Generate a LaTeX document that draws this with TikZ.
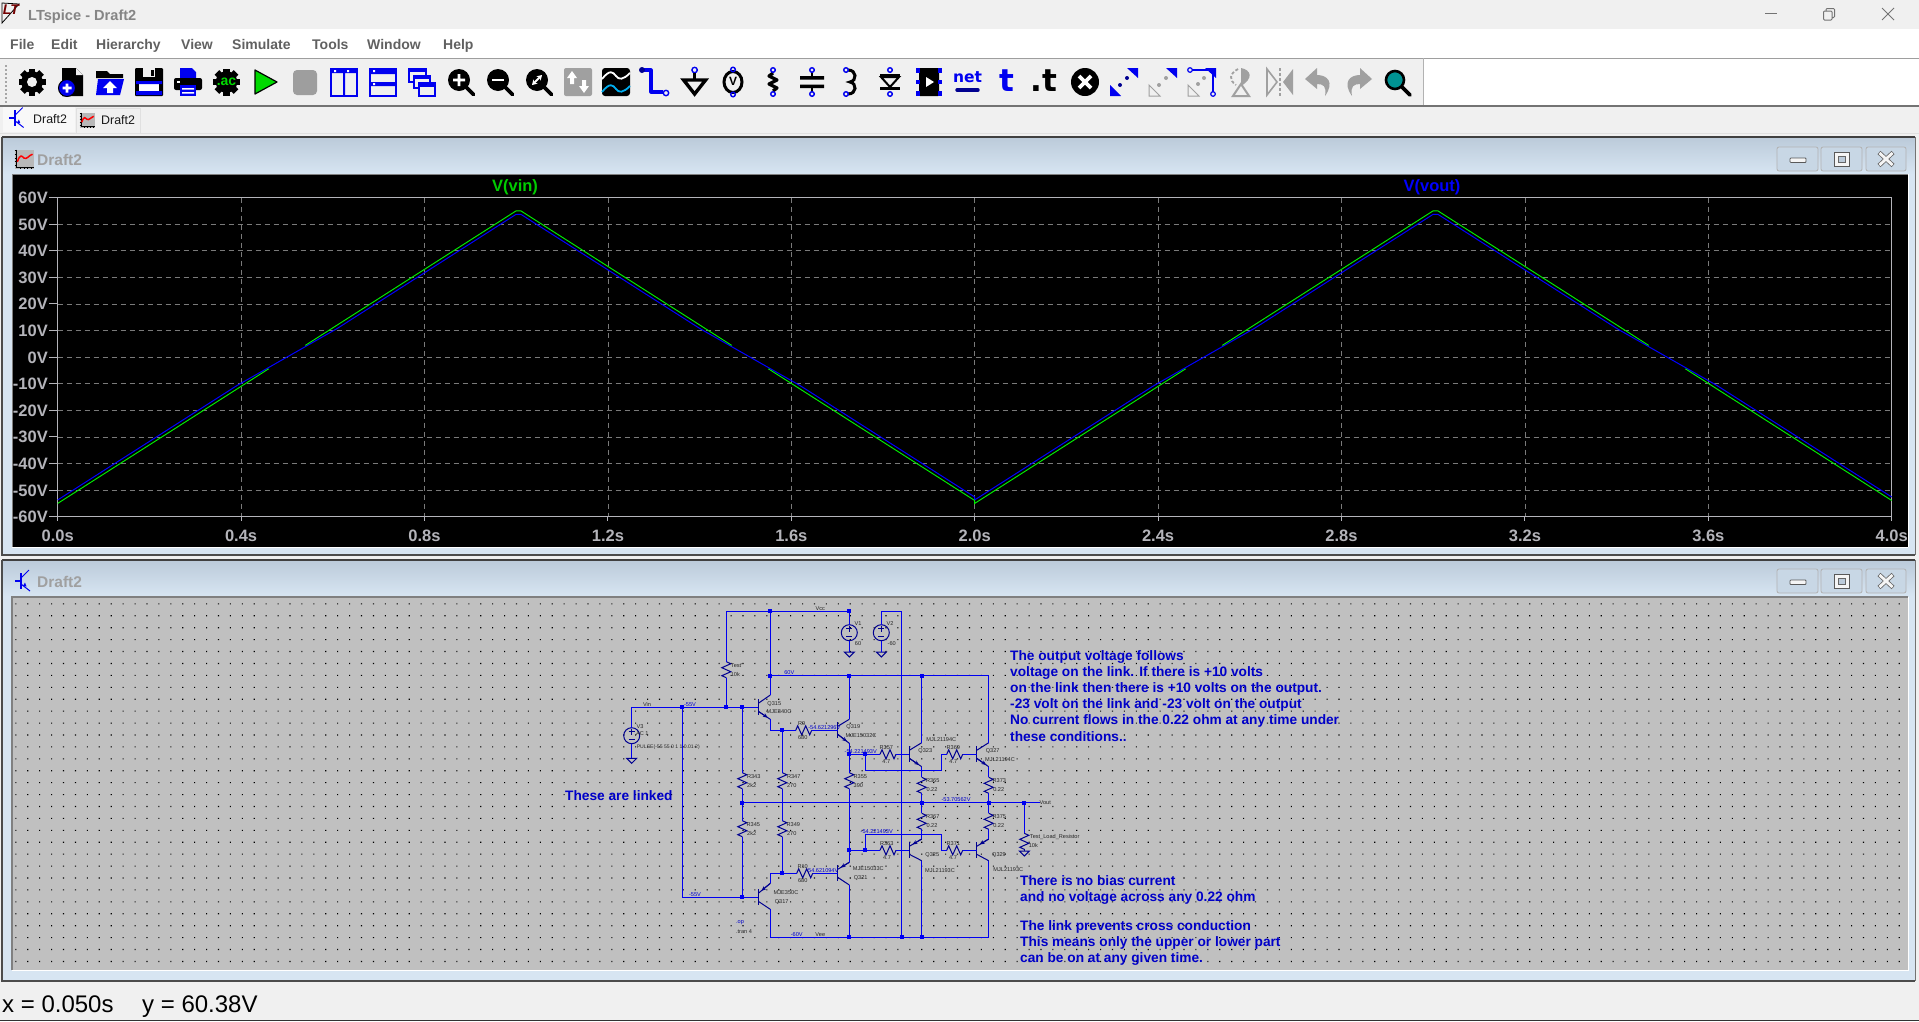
\documentclass[tikz,border=0pt]{standalone}
\usepackage{fontspec}
\setmainfont{Liberation Sans}
\newfontfamily\icofont{DejaVu Sans}
\usetikzlibrary{arrows.meta,calc}
\definecolor{ui}{HTML}{F0F0F0}
\definecolor{wire}{HTML}{0000F0}
\definecolor{symc}{HTML}{000090}
\definecolor{sch}{HTML}{C0C0C0}
\definecolor{frameA}{HTML}{BCCBDA}
\definecolor{frameB}{HTML}{D7E5F2}
\definecolor{axis}{HTML}{B4B4BA}
\definecolor{note}{HTML}{0000C8}
\definecolor{dis}{HTML}{A0A0A0}
\definecolor{tbblue}{HTML}{0000F0}
\definecolor{trg}{HTML}{00F000}
\tikzset{
  w/.style={draw=wire,line width=1.15pt},
  sym/.style={draw=symc,line width=1pt,line join=miter},
  tn/.style={font=\fontsize{5.6}{6}\selectfont,text=black!85,inner sep=0pt,text height=4.2pt,text depth=0pt},
  vn/.style={font=\fontsize{5.6}{6}\selectfont,text=wire!85!black,inner sep=0pt,text height=4.2pt,text depth=0pt},
  bign/.style={font=\fontsize{13.7}{16}\selectfont\bfseries,text=note,inner sep=0pt,anchor=base west},
  menun/.style={font=\fontsize{14}{14}\selectfont\bfseries,text=black!62,inner sep=0pt,anchor=base west},
  axn/.style={font=\fontsize{16.5}{16.5}\selectfont\bfseries,text=axis,inner sep=0pt,text height=12pt,text depth=0pt},
  grid/.style={draw=black!52,line width=.75pt,dash pattern=on 5pt off 4pt},
  btn/.style={draw=black!30,fill=frameA!55!frameB,rounded corners=2pt,line width=.8pt},
  statn/.style={inner sep=0pt,anchor=base west,font=\fontsize{24}{24}\selectfont,text=black},
}
\newcommand\myvr[3]{\coordinate (#1-t) at (#2,#3); \coordinate (#1-b) at (#2,#3+16);
  \draw[sym] (#1-t) -- ++(4.5,2) -- ++(-9,4) -- ++(9,4) -- ++(-9,4) -- (#1-b);}
\newcommand\myhr[3]{\coordinate (#1-t) at (#2,#3); \coordinate (#1-b) at (#2+16,#3);
  \draw[sym] (#1-t) -- ++(2,-4.5) -- ++(4,9) -- ++(4,-9) -- ++(4,9) -- (#1-b);}
\newcommand\myq[6]{% name barx basey wirex topy boty
  \coordinate (#1-g) at (#2,#3); \coordinate (#1-u) at (#4,#5); \coordinate (#1-d) at (#4,#6);
  \coordinate (#1-us) at (#2,#3-4); \coordinate (#1-ds) at (#2,#3+4);
  \draw[sym,line width=1.3pt] (#2,#3-8) -- (#2,#3+8);
  \draw[sym] (#1-us) -- (#1-u); \draw[sym] (#1-ds) -- (#1-d);}
\newcommand\mynpn[6]{\myq{#1}{#2}{#3}{#4}{#5}{#6}
  \draw[sym,-{Stealth[length=5pt,width=4pt]}] (#1-ds) -- ($(#1-ds)!.8!(#1-d)$);}
\newcommand\mypnp[6]{\myq{#1}{#2}{#3}{#4}{#5}{#6}
  \draw[sym,-{Stealth[length=5pt,width=4pt]}] (#1-u) -- ($(#1-u)!.75!(#1-us)$);}
\newcommand\mysrc[3]{\coordinate (#1-t) at (#2,#3-8); \coordinate (#1-b) at (#2,#3+8);
  \draw[sym] (#2,#3) circle (8);
  \draw[sym] (#2-3,#3-4) -- (#2+3,#3-4) (#2,#3-7) -- (#2,#3-1) (#2-3,#3+4) -- (#2+3,#3+4);}
\newcommand\mygnd[3]{\coordinate (#1) at (#2,#3);
  \draw[sym] (#2-5,#3) -- (#2+5,#3) -- (#2,#3+5) -- cycle;}
\newcommand\myj[1]{\fill[wire] ($(#1)+(-2,-2)$) rectangle ($(#1)+(2,2)$);}
\newcommand\mygear[3]{\begin{scope}[shift={(#1,#2)}]
  \foreach \a in {0,45,...,315}{\fill[black,rotate=\a] (-3.2,-13.5) rectangle (3.2,0);}
  \fill[black] (0,0) circle (10.8);
  \ifx#3w\fill[ui] (0,0) circle (5);\fi
  \end{scope}}
\newcommand\myzoom[3]{\begin{scope}[shift={(#1,#2)}]
  \draw[black,line width=3.6pt,line cap=round] (5,5) -- (12.5,12.5);
  \fill[black] (-2,-2) circle (11);
  #3
  \end{scope}}
\newcommand\myploticon[3]{\begin{scope}[shift={(#1,#2)},scale=#3]
  \fill[black!28] (-10,-10) rectangle (10,10);
  \draw[black,line width=1pt] (-8,-10) -- (-8,9) -- (10,9);
  \foreach \v in {-9,-5,-1,3,7}{\draw[black,line width=.8pt] (-10,\v) -- (-8,\v);}
  \foreach \v in {-4,0,4,8}{\draw[black,line width=.8pt] (\v,9) -- (\v,11);}
  \draw[red,line width=1.5pt] (-7,3) .. controls (-4,-6) and (-2,-3) .. (0,-1) .. controls (3,1) and (5,-4) .. (9,-5);
  \end{scope}}
\newcommand\mytrans[3]{\begin{scope}[shift={(#1,#2)},scale=#3]
  \draw[tbblue,line width=1.3pt] (-8,0) -- (-2,0);
  \draw[tbblue,line width=2.4pt] (-2,-8) -- (-2,8);
  \draw[tbblue,line width=1pt] (-2,-3) -- (6,-11);
  \draw[tbblue,line width=1pt] (-2,3) -- (7,10);
  \fill[tbblue] (3.5,5.5) -- (0,5) -- (2,1.5) -- cycle;
  \end{scope}}
\newcommand\mybtns[1]{%
  \draw[btn] (1777,#1) rectangle (1818,#1+24);
  \draw[btn] (1821,#1) rectangle (1862,#1+24);
  \draw[btn] (1866,#1) rectangle (1906,#1+24);
  \draw[black!65,fill=black!4,line width=.8pt,rounded corners=.8pt] (1790,#1+11) rectangle (1806,#1+15.5);
  \draw[black!65,fill=black!4,line width=.8pt] (1834,#1+5) rectangle (1849,#1+19);
  \draw[black!60,fill=frameA,line width=.8pt] (1838,#1+9) rectangle (1845,#1+15);
  \draw[black!60,line width=4.4pt] (1879,#1+5.5) -- (1893,#1+18.5) (1893,#1+5.5) -- (1879,#1+18.5);
  \draw[black!4,line width=2.8pt] (1879.5,#1+6) -- (1892.5,#1+18) (1892.5,#1+6) -- (1879.5,#1+18);}
\begin{document}
\begin{tikzpicture}[x=1pt,y=-1pt,
  declare function={tx(\t)=57.7+458.5*\t; vy(\v)=357.1-2.66*\v;}]
\useasboundingbox (0,0) rectangle (1919,1021);
% ---------- application chrome
\fill[ui] (0,0) rectangle (1919,1021);
\fill[white] (0,28.5) rectangle (1919,58);
\fill[white] (1423,58) rectangle (1919,105);
\draw[black!38,line width=1pt] (0,58) -- (1919,58);
\draw[black!30,line width=.8pt] (1423,58) -- (1423,105);
\draw[black!55,line width=1.2pt] (0,106) -- (1919,106);
% title bar
\draw[black,line width=.8pt] (2,3) -- (2,23) -- (19,4) -- cycle;
\node[inner sep=0pt,text=red!45!black,font=\fontsize{14}{14}\selectfont\bfseries\itshape] (logo) at (11,10) {LT};
\node[menun,text=black!48,font=\fontsize{14.6}{14.6}\selectfont\bfseries] (title) at (28,20) {LTspice - Draft2};
\draw[black!55,line width=1pt] (1765,13.5) -- (1777,13.5);
\draw[black!55,line width=1pt,rounded corners=1pt] (1823.5,11) rectangle (1832,20);
\draw[black!55,line width=1pt,rounded corners=1pt] (1826,11) -- (1826,8.5) -- (1834.5,8.5) -- (1834.5,17.5) -- (1832,17.5);
\draw[black!55,line width=1pt] (1882,8) -- (1894,20) (1894,8) -- (1882,20);
% menu
\node[menun] (mfile) at (10,49) {File};
\node[menun] (medit) at (51,49) {Edit};
\node[menun] (mhier) at (96,49) {Hierarchy};
\node[menun] (mview) at (181,49) {View};
\node[menun] (msim) at (232,49) {Simulate};
\node[menun] (mtools) at (312,49) {Tools};
\node[menun] (mwin) at (367,49) {Window};
\node[menun] (mhelp) at (443,49) {Help};
% toolbar grip
\foreach \v in {65,69,...,101}{\fill[black!35] (5,\v) rectangle (6.5,\v+1.5);}
% toolbar icons
\mygear{32}{82}{w}
\begin{scope}[shift={(71,82)}]
 \fill[black] (-9,-14) -- (5,-14) -- (12,-7) -- (12,14) -- (-9,14) -- cycle;
 \fill[ui] (5,-14) -- (12,-7) -- (5,-7) -- cycle;
 \draw[black,line width=1pt,fill=tbblue] (-4,6) circle (8.5);
 \fill[white] (-8.5,4.7) rectangle (.5,7.3) (-5.3,1.5) rectangle (-2.7,10.5);
\end{scope}
\begin{scope}[shift={(110,82)}]
 \fill[black] (-14,-11) -- (-3,-11) -- (0,-8) -- (13,-8) -- (13,-4) -- (-14,-4) -- cycle;
 \fill[tbblue] (-12,-3) -- (14,-3) -- (10,13) -- (-14,13) -- cycle;
 \fill[white] (0,-1) -- (7,6) -- (3,6) -- (3,11) -- (-3,11) -- (-3,6) -- (-7,6) -- cycle;
\end{scope}
\begin{scope}[shift={(149,82)}]
 \fill[black,rounded corners=1pt] (-14,-14) rectangle (14,14);
 \fill[ui] (-6,-14) rectangle (6,-5);
 \fill[black] (2,-12) rectangle (5,-6);
 \fill[white] (-10,2) rectangle (10,12);
 \fill[tbblue] (-13,-1) rectangle (13,2) (-13,9) rectangle (13,13);
\end{scope}
\begin{scope}[shift={(188,82)}]
 \fill[tbblue] (-8,-14) -- (4,-14) -- (8,-10) -- (8,-3) -- (-8,-3) -- cycle;
 \fill[black,rounded corners=2pt] (-14,-4) rectangle (14,8);
 \fill[white] (-11,-1) rectangle (-8,1);
 \fill[tbblue] (-8,3) rectangle (8,14);
 \fill[white] (-6,6) rectangle (6,7.5) (-6,10) rectangle (6,11.5);
\end{scope}
\mygear{226.5}{82}{n}
\node[inner sep=0pt,text=green!85!black,font=\fontsize{14}{14}\selectfont\bfseries] (ticoac) at (226.5,82) {.ac};
\draw[black,line width=1.2pt,fill=green!85!black,line join=round] (255,70) -- (255,94) -- (277,82) -- cycle;
\fill[black!38,rounded corners=4pt] (293,70) rectangle (317,95);
\begin{scope}[shift={(344,82)}]
 \draw[tbblue,line width=2pt] (-13,-13) rectangle (13,14);
 \fill[tbblue] (-13,-13) rectangle (13,-9) (-1,-13) rectangle (1,14);
 \fill[white] (-10,-12) rectangle (-8,-10) (3,-12) rectangle (5,-10);
\end{scope}
\begin{scope}[shift={(383,82)}]
 \draw[tbblue,line width=2pt] (-13,-13) rectangle (13,14);
 \fill[tbblue] (-13,-13) rectangle (13,-8) (-13,0) rectangle (13,4);
 \fill[white] (-10,-12) rectangle (-8,-10) (-10,1) rectangle (-8,3);
\end{scope}
\begin{scope}[shift={(422,82)}]
 \draw[tbblue,line width=2pt,fill=ui] (-13,-13) rectangle (4,0);
 \fill[tbblue] (-13,-13) rectangle (4,-10);
 \draw[tbblue,line width=2pt,fill=ui] (-8,-6) rectangle (8,6);
 \fill[tbblue] (-8,-6) rectangle (8,-3);
 \draw[tbblue,line width=2pt,fill=ui] (-3,1) rectangle (13,14);
 \fill[tbblue] (-3,1) rectangle (13,5);
\end{scope}
\myzoom{461}{82}{\fill[white] (-8,-3.3) rectangle (4,-.7) (-3.3,-8) rectangle (-.7,4);}
\myzoom{500}{82}{\fill[white] (-8,-3.3) rectangle (4,-.7);}
\myzoom{539}{82}{\draw[white,line width=2pt,{Stealth[length=5pt,width=6pt]}-{Stealth[length=5pt,width=6pt]}] (-7,3) -- (3,-7);}
\begin{scope}[shift={(578,82)}]
 \fill[dis,rounded corners=2pt] (-14,-14) rectangle (14,14);
 \fill[white] (-6,-11) -- (-1,-4) -- (-4,-4) -- (-4,2) -- (-8,2) -- (-8,-4) -- (-11,-4) -- cycle;
 \fill[white] (6,11) -- (1,4) -- (4,4) -- (4,-2) -- (8,-2) -- (8,4) -- (11,4) -- cycle;
\end{scope}
\begin{scope}[shift={(616,82)}]
 \fill[black,rounded corners=3pt] (-14,-14) rectangle (14,14);
 \draw[white,line width=1.8pt] (-14,-3) .. controls (-6,-13) and (-3,-10) .. (0,-6) .. controls (3,-2) and (7,-2) .. (14,-9);
 \draw[cyan,line width=1.8pt] (-14,10) .. controls (-6,0) and (-3,3) .. (0,7) .. controls (3,11) and (7,11) .. (14,4);
\end{scope}
\begin{scope}[shift={(655,82)}]
 \draw[tbblue,line width=3.2pt,line join=round] (-12,-12) -- (-4,-12) -- (-4,10) -- (8,10);
 \fill[symc] (-13,-12) circle (3);
 \draw[tbblue,line width=1.4pt,fill=ui] (11,11) circle (2.7);
\end{scope}
\begin{scope}[shift={(694.6,82)}]
 \draw[tbblue,line width=1.4pt] (0,-12) circle (2.7);
 \draw[black,line width=2.4pt] (0,-9) -- (0,-3);
 \draw[black,line width=3.4pt,fill=ui] (-11,-2) -- (11,-2) -- (0,12) -- cycle;
\end{scope}
\begin{scope}[shift={(733,82)}]
 \draw[black,line width=3pt,fill=ui] (0,0) ellipse (9 and 10.5);
 \draw[tbblue,line width=1.4pt] (0,-12.5) circle (2.3) (0,12.5) circle (2.3);
 \node[inner sep=0pt,font=\fontsize{12}{12}\selectfont\bfseries,text=black] (ticov) at (0,-.5) {V};
\end{scope}
\begin{scope}[shift={(773,82)}]
 \draw[black,line width=3.2pt,line join=round] (0,-9) -- (-4,-6) -- (4,-2) -- (-4,2) -- (4,6) -- (0,9);
 \draw[tbblue,line width=1.4pt] (0,-12) circle (2.3) (0,12) circle (2.3);
\end{scope}
\begin{scope}[shift={(812,82)}]
 \fill[black] (-12,-6) rectangle (12,-2.5) (-12,2.5) rectangle (12,6);
 \draw[black,line width=1.6pt] (0,-10) -- (0,-6) (0,6) -- (0,10);
 \draw[tbblue,line width=1.4pt] (0,-12) circle (2.3) (0,12) circle (2.3);
\end{scope}
\begin{scope}[shift={(851,82)}]
 \draw[black,line width=3pt] (-3,-12) .. controls (6,-12) and (6,-1) .. (-1,0) .. controls (6,1) and (6,12) .. (-3,12);
 \draw[tbblue,line width=1.4pt] (-5,-12) circle (2.3) (-5,12) circle (2.3);
\end{scope}
\begin{scope}[shift={(890,82)}]
 \draw[black,line width=2pt,fill=ui] (-9,-5) -- (9,-5) -- (0,5) -- cycle;
 \fill[black] (-10,5) rectangle (10,8);
 \fill[black] (-10,-8) rectangle (10,-5);
 \draw[tbblue,line width=1.4pt] (0,-12) circle (2.3) (0,12) circle (2.3);
\end{scope}
\begin{scope}[shift={(929,82)}]
 \fill[black,rounded corners=1pt] (-10,-14) rectangle (10,14);
 \fill[white] (-3,-5) -- (5,0) -- (-3,5) -- cycle;
 \foreach \v in {-13,-1.5,10}{\draw[tbblue,line width=1.4pt] (-12,\v) rectangle (-10,\v+3) (10,\v) rectangle (12,\v+3);}
\end{scope}
\node[inner sep=0pt,font=\fontsize{15.5}{15.5}\selectfont\bfseries\icofont,text=tbblue] (ticonet) at (967.5,77) {net};
\draw[symc,line width=3.4pt,line cap=round] (957,90) -- (978,90);
\node[inner sep=0pt,font=\fontsize{31}{31}\selectfont\bfseries\icofont,text=tbblue] (ticot) at (1007,81) {t};
\node[inner sep=0pt,font=\fontsize{31}{31}\selectfont\bfseries\icofont,text=black] (ticodt) at (1044,81) {.t};
\begin{scope}[shift={(1085,82)}]
 \fill[black] (0,0) circle (14);
 \draw[white,line width=3.6pt] (-6,-6) -- (6,6) (6,-6) -- (-6,6);
\end{scope}
\begin{scope}[shift={(1124,82)}]
 \fill[tbblue] (14,-14) -- (3,-14) -- (14,-4) -- cycle (-14,14) -- (-14,3) -- (-3,14) -- cycle;
 \fill[symc] (-4,3) circle (2) (3,-4) circle (2);
\end{scope}
\begin{scope}[shift={(1163,82)}]
 \fill[tbblue] (14,-14) -- (3,-14) -- (14,-4) -- cycle;
 \draw[dis,line width=1pt] (-14,3) -- (-3,14) -- (-14,14) -- cycle;
 \fill[dis] (-4,3) circle (2) (3,-4) circle (2);
\end{scope}
\begin{scope}[shift={(1202,82)}]
 \fill[tbblue] (14,-14) -- (3,-14) -- (14,-4) -- cycle;
 \draw[tbblue,line width=1.2pt] (-10,-12) -- (11,-12) -- (11,10);
 \draw[tbblue,line width=1.2pt,fill=ui] (-12,-12) circle (2.3) (11,12) circle (2.3);
 \draw[dis,line width=1pt] (-14,3) -- (-3,14) -- (-14,14) -- cycle;
 \fill[dis] (-4,2) circle (2) (2,-4) circle (2);
\end{scope}
\begin{scope}[shift={(1241,82)}]
 \fill[dis] (0,-14) .. controls (10,-12) and (13,-4) .. (0,4) -- cycle;
 \draw[dis,line width=1.8pt,dash pattern=on 3pt off 2pt] (-3,-13) .. controls (-12,-8) and (-12,-2) .. (-5,3);
 \draw[dis,line width=2pt] (0,2) -- (8,14) -- (-8,14) -- cycle;
\end{scope}
\begin{scope}[shift={(1280,82)}]
 \fill[dis] (3,0) -- (13,-13) -- (13,13) -- cycle;
 \draw[dis,line width=1.6pt] (-3,0) -- (-13,-13) -- (-13,13) -- cycle;
 \draw[dis,line width=2pt,dash pattern=on 3pt off 2pt] (0,-14) -- (0,14);
\end{scope}
\begin{scope}[shift={(1319,82)}]
 \fill[dis] (-14,-3) -- (-2,-14) -- (-2,-7) .. controls (8,-7) and (16,0) .. (6,14) .. controls (8,4) and (4,2) .. (-2,2) -- (-2,7) -- cycle;
\end{scope}
\begin{scope}[shift={(1358,82)},xscale=-1]
 \fill[dis] (-14,-3) -- (-2,-14) -- (-2,-7) .. controls (8,-7) and (16,0) .. (6,14) .. controls (8,4) and (4,2) .. (-2,2) -- (-2,7) -- cycle;
\end{scope}
\begin{scope}[shift={(1397,82)}]
 \draw[black,line width=3.6pt,line cap=round] (5,5) -- (13,13);
 \draw[black,line width=2.6pt,fill=teal!85!cyan] (-2,-2) circle (9);
\end{scope}
% tabs
\fill[ui!50!white] (3,107) rectangle (75,132);
\draw[black!12,line width=.7pt] (76,108) rectangle (140,133);
\mytrans{17}{118}{.95}
\node[inner sep=0pt,anchor=base west,font=\fontsize{12.4}{12}\selectfont,text=black!90] (tab1) at (33,123) {Draft2};
\myploticon{87}{120}{.75}
\node[inner sep=0pt,anchor=base west,font=\fontsize{12.4}{12}\selectfont,text=black!90] (tab2) at (101,124.5) {Draft2};
\draw[black!12,line width=.8pt] (0,133.5) -- (1919,133.5);
% ---------- waveform window
\fill[frameB] (2,137) rectangle (1915,555);
\shade[top color=frameA,bottom color=frameB] (3,138) rectangle (1915,174);
\draw[black!75,line width=1.2pt] (2,137) -- (1915,137);
\draw[black!70,line width=1.4pt] (2,137) -- (2,555) -- (1915,555);
\draw[black!55,line width=1pt] (1915.5,137) -- (1915.5,555);
\myploticon{24}{159}{.95}
\node[inner sep=0pt,anchor=base west,text=dis,font=\fontsize{15.5}{15.5}\selectfont\bfseries] (wt1) at (37,165) {Draft2};
\mybtns{147}
\fill[black] (12,174.5) rectangle (1908,547);
\draw[black!50,line width=1pt] (12,174) -- (1908,174);
\draw[black!50,line width=1pt] (12,174) -- (12,547);
\draw[white,line width=1pt] (12,547.5) -- (1908,547.5) (1908.5,174) -- (1908.5,547);
% grid
\foreach \v in {-50,-40,...,50}{\draw[grid] ({tx(0)},{vy(\v)}) -- ({tx(4)},{vy(\v)});}
\foreach \t in {.4,.8,...,3.7}{\draw[grid] ({tx(\t)},{vy(60)}) -- ({tx(\t)},{vy(-60)});}
\draw[axis,line width=.9pt] ({tx(0)},{vy(60)}) rectangle ({tx(4)},{vy(-60)});
\foreach \v in {-60,-50,...,60}{\draw[axis,line width=.9pt] (49,{vy(\v)}) -- ({tx(0)},{vy(\v)});
  \node[axn,anchor=east] (yl\v) at (48,{vy(\v)}) {\v V};}
\foreach \t/\s in {0/0.0,.4/0.4,.8/0.8,1.2/1.2,1.6/1.6,2/2.0,2.4/2.4,2.8/2.8,3.2/3.2,3.6/3.6,4/4.0}{
  \draw[axis,line width=.9pt] ({tx(\t)},{vy(-60)}) -- ({tx(\t)},{vy(-60)+4});
  \node[axn] (xl\s) at ({tx(\t)},535) {\s s};}
% traces
\draw[blue,line width=1pt] ({tx(0)},{vy(-53.7)}) -- ({tx(.3909)},{vy(-10.7)}) -- ({tx(.6091)},{vy(10.7)}) -- ({tx(1)},{vy(53.7)}) -- ({tx(1.01)},{vy(53.7)}) -- ({tx(1.4009)},{vy(10.7)}) -- ({tx(1.6191)},{vy(-10.7)}) -- ({tx(2)},{vy(-52.6)}) -- ({tx(2)},{vy(-53.7)}) -- ({tx(2.3909)},{vy(-10.7)}) -- ({tx(2.6091)},{vy(10.7)}) -- ({tx(3)},{vy(53.7)}) -- ({tx(3.01)},{vy(53.7)}) -- ({tx(3.4009)},{vy(10.7)}) -- ({tx(3.6191)},{vy(-10.7)}) -- ({tx(4)},{vy(-52.6)});
\draw[trg,line width=.95pt] ({tx(0)},{vy(-55)}) -- ({tx(.46)},{vy(-4.4)});
\draw[trg,line width=.95pt] ({tx(.54)},{vy(4.4)}) -- ({tx(1)},{vy(55)}) -- ({tx(1.01)},{vy(55)}) -- ({tx(1.47)},{vy(4.4)});
\draw[trg,line width=.95pt] ({tx(1.55)},{vy(-4.4)}) -- ({tx(2)},{vy(-53.9)}) -- ({tx(2)},{vy(-55)}) -- ({tx(2.46)},{vy(-4.4)});
\draw[trg,line width=.95pt] ({tx(2.54)},{vy(4.4)}) -- ({tx(3)},{vy(55)}) -- ({tx(3.01)},{vy(55)}) -- ({tx(3.47)},{vy(4.4)});
\draw[trg,line width=.95pt] ({tx(3.55)},{vy(-4.4)}) -- ({tx(4)},{vy(-53.9)});
\node[axn,text=green!80!black] (tvin) at (515,185.5) {V(vin)};
\node[axn,text=blue] (tvout) at (1432,185.5) {V(vout)};
% ---------- schematic window
\fill[frameB] (2,560) rectangle (1915,980);
\shade[top color=frameA,bottom color=frameB] (3,561) rectangle (1915,596);
\draw[black!75,line width=1.2pt] (2,560) -- (1915,560);
\draw[black!70,line width=1.4pt] (2,560) -- (2,981) -- (1915,981);
\draw[black!55,line width=1pt] (1915.5,560) -- (1915.5,981);
\mytrans{23}{581}{1}
\node[inner sep=0pt,anchor=base west,text=dis,font=\fontsize{15.5}{15.5}\selectfont\bfseries] (wt2) at (37,587) {Draft2};
\mybtns{569}
\fill[sch] (12,597) rectangle (1908,970);
\draw[black!50,line width=1.2pt] (12,970) -- (12,597) -- (1908,597);
\draw[white,line width=1pt] (12,970.5) -- (1908.5,970.5) -- (1908.5,597);
\fill[black] foreach \i in {0,...,158}{ foreach \j in {0,...,30}{ (15.3+11.92*\i,603.3+11.92*\j) rectangle ++(1.1,1.1) } };
% components
\mysrc{V1}{849.3}{632.7}
\mysrc{V2}{881.3}{632.7}
\mysrc{V3}{631.7}{735.7}
\mygnd{G1}{849.3}{652}
\mygnd{G2}{881.3}{652}
\mygnd{G3}{631.7}{758.3}
\mygnd{G4}{1024.3}{851}
\myvr{Rt}{726.3}{661.7}
\myvr{R343}{742.3}{772.7}
\myvr{R345}{742.3}{820.7}
\myvr{R347}{782.3}{772.7}
\myvr{R349}{782.3}{820.7}
\myvr{R355}{849.3}{772.7}
\myvr{R365}{921.7}{777.3}
\myvr{R373}{988.7}{777.3}
\myvr{R367}{921.7}{813.3}
\myvr{R375}{988.7}{813.3}
\myvr{RL}{1024.3}{833.3}
\myhr{R9}{795.7}{730.3}
\myhr{R10}{796.7}{873.3}
\myhr{R357}{880}{754.3}
\myhr{R369}{946.7}{754.3}
\myhr{R363}{880}{850.3}
\myhr{R371}{946.7}{850.3}
\mynpn{Q315}{758.3}{707.3}{770.3}{695}{719.3}
\mypnp{Q317}{758.3}{897.3}{770.3}{883.3}{909.3}
\mynpn{Q319}{837.7}{730.3}{849.3}{719.3}{743.3}
\mypnp{Q321}{837.7}{873.3}{849.3}{862.3}{885}
\mynpn{Q323}{909.3}{754.3}{921.7}{742.7}{766.7}
\mynpn{Q327}{976.7}{754.3}{988.7}{742.7}{766.7}
\mypnp{Q325}{909.3}{850.3}{921.7}{839}{860.7}
\mypnp{Q329}{976.7}{850.3}{988.7}{839}{860.7}
% wires: named points
\coordinate (a1) at (726.3,611.3); \coordinate (a2) at (770.3,611.3); \coordinate (a3) at (849.3,611.3);
\coordinate (a4) at (881.3,611.3); \coordinate (a5) at (901.7,611.3);
\coordinate (p60a) at (770.3,675.7); \coordinate (p60b) at (849.3,675.7); \coordinate (p60c) at (921.7,675.7); \coordinate (p60d) at (988.7,675.7);
\coordinate (vin0) at (631.7,707.3); \coordinate (vin1) at (682.3,707.3); \coordinate (vin2) at (726.3,707.3); \coordinate (vin3) at (742.3,707.3);
\coordinate (nin1) at (682.3,897.3); \coordinate (nin2) at (742.3,897.3);
\coordinate (e1) at (770.3,730.3); \coordinate (e2) at (782.3,730.3);
\coordinate (e3) at (770.3,873.3); \coordinate (e4) at (782.3,873.3);
\coordinate (o1) at (742.3,802.5); \coordinate (o2) at (921.7,802.5); \coordinate (o3) at (988.7,802.5); \coordinate (o4) at (1024.3,802.5); \coordinate (o5) at (1040,802.5);
\coordinate (r1) at (770.3,937.3); \coordinate (r2) at (849.3,937.3); \coordinate (r3) at (901.7,937.3); \coordinate (r4) at (921.7,937.3); \coordinate (r5) at (988.7,937.3);
\coordinate (l1) at (849.3,754.3); \coordinate (l2) at (865.3,754.3); \coordinate (l3) at (865.3,770.3); \coordinate (l4) at (941.7,770.3); \coordinate (l5) at (941.7,754.3);
\coordinate (m1) at (849.3,850.3); \coordinate (m2) at (865.3,850.3); \coordinate (m3) at (865.3,834.3); \coordinate (m4) at (941.7,834.3); \coordinate (m5) at (941.7,850.3);
\draw[w] (a1) -- (a3) (a3) -- (V1-t) (V1-b) -- (G1);
\draw[w] (V2-t) -- (a4) -- (a5) -- (r3) (V2-b) -- (G2);
\draw[w] (a1) -- (Rt-t) (Rt-b) -- (vin2);
\draw[w] (a2) -- (Q315-u) (p60a) -- (p60d) -- (Q327-u) (p60b) -- (Q319-u) (p60c) -- (Q323-u);
\draw[w] (V3-t) -- (vin0) -- (Q315-g) (V3-b) -- (G3);
\draw[w] (vin1) -- (nin1) -- (Q317-g) (vin3) -- (R343-t) (R343-b) -- (o1) -- (o5) (o1) -- (R345-t) (R345-b) -- (nin2);
\draw[w] (Q315-d) -- (e1) -- (R9-t) (R9-b) -- (Q319-g) (e2) -- (R347-t) (R347-b) -- (R349-t) (R349-b) -- (e4);
\draw[w] (Q317-u) -- (e3) -- (R10-t) (R10-b) -- (Q321-g) (Q317-d) -- (r1) -- (r5) -- (Q329-d);
\draw[w] (Q319-d) -- (R355-t) (R355-b) -- (Q321-u) (Q321-d) -- (r2) (Q325-d) -- (r4);
\draw[w] (l1) -- (R357-t) (R357-b) -- (Q323-g) (l2) -- (l3) -- (l4) -- (l5) -- (R369-t) (R369-b) -- (Q327-g);
\draw[w] (m1) -- (R363-t) (R363-b) -- (Q325-g) (m2) -- (m3) -- (m4) -- (m5) -- (R371-t) (R371-b) -- (Q329-g);
\draw[w] (Q323-d) -- (R365-t) (R365-b) -- (R367-t) (R367-b) -- (Q325-u);
\draw[w] (Q327-d) -- (R373-t) (R373-b) -- (R375-t) (R375-b) -- (Q329-u);
\draw[w] (o4) -- (RL-t); \draw[sym] (RL-b) -- (G4);
\foreach \p in {a2,vin1,vin2,vin3,nin2,e2,e4,p60a,p60b,p60c,o1,o2,o3,o4,r2,r3,r4,l1,l2,m1,m2,a3}{\myj{\p}}
% schematic labels
\node[tn] (t01) at (820.3,608) {Vcc};
\node[tn] (t02) at (858,623) {V1};
\node[tn] (t03) at (858,643) {60};
\node[tn] (t04) at (890,623) {V2};
\node[tn] (t05) at (891.7,643) {-60};
\node[tn] (t06) at (736.7,665) {Test'};
\node[tn] (t07) at (735.3,674) {10k};
\node[vn] (t08) at (789.3,672) {60V};
\node[tn] (t09) at (647,704) {Vin};
\node[vn] (t10) at (690,704) {-55V};
\node[tn] (t11) at (774.3,703.3) {Q315};
\node[tn] (t12) at (779,711) {MJE340C};
\node[tn] (t13) at (640,726) {V3};
\node[tn] (t14) at (642.3,733) {AC 1};
\node[tn,font=\fontsize{5.1}{6}\selectfont] (t15) at (668.3,746) {PULSE(-55 55 0 1 1 0.01 2)};
\node[tn] (t16) at (801.7,723) {R9};
\node[tn] (t17) at (802.7,737) {680};
\node[vn] (t18) at (824.3,727) {-54.621296V};
\node[tn] (t19) at (853.3,726) {Q319};
\node[tn] (t20) at (861,735) {MJE15032C};
\node[vn] (t21) at (860.7,751) {-54.221493V};
\node[tn] (t22) at (886.3,747) {R357};
\node[tn] (t23) at (886.3,761) {4.7};
\node[tn] (t24) at (753.7,776) {R343};
\node[tn] (t25) at (751.7,785) {2k2};
\node[tn] (t26) at (793.7,776) {R347};
\node[tn] (t27) at (791.7,785) {270};
\node[tn] (t28) at (860.3,776) {R355};
\node[tn] (t29) at (858.3,785) {390};
\node[tn] (t30) at (941.3,739.3) {MJL21194C};
\node[tn] (t31) at (925.3,750) {Q323};
\node[tn] (t32) at (953.3,747) {R369};
\node[tn] (t33) at (953.3,761) {4.7};
\node[tn] (t34) at (992.7,750) {Q327};
\node[tn] (t35) at (1000,759) {MJL21194C};
\node[tn] (t36) at (932.7,780) {R365};
\node[tn] (t37) at (932,789) {0.22};
\node[tn] (t38) at (999.3,780) {R373};
\node[tn] (t39) at (998.7,789) {0.22};
\node[vn] (t40) at (956,799) {-53.70562V};
\node[tn] (t41) at (1045.3,802) {Vout};
\node[tn] (t42) at (932.7,816) {R367};
\node[tn] (t43) at (932,825) {0.22};
\node[tn] (t44) at (999.3,816) {R375};
\node[tn] (t45) at (998.7,825) {0.22};
\node[vn] (t46) at (876.7,831) {-54.221493V};
\node[tn] (t47) at (886.7,843) {R363};
\node[tn] (t48) at (887,857) {4.7};
\node[tn] (t49) at (953.3,843) {R371};
\node[tn] (t50) at (953,857) {4.7};
\node[tn] (t51) at (932.3,854) {Q325};
\node[tn] (t52) at (940,870) {MJL21193C};
\node[tn] (t53) at (999,854) {Q329};
\node[tn] (t54) at (1008.3,869) {MJL21193C};
\node[tn] (t55) at (1054.7,836) {Test\_Load\_Resistor};
\node[tn] (t56) at (1033.3,845) {10k};
\node[tn] (t57) at (868.3,868) {MJE15033C};
\node[tn] (t58) at (860.7,877) {Q321};
\node[vn] (t59) at (822.3,870) {-54.621094V};
\node[tn] (t60) at (802.7,866) {R10};
\node[tn] (t61) at (802.7,880) {680};
\node[tn] (t62) at (753.3,824) {R345};
\node[tn] (t63) at (751.7,833) {2k2};
\node[tn] (t64) at (793.3,824) {R349};
\node[tn] (t65) at (791.7,833) {270};
\node[tn] (t66) at (786,892) {MJE350C};
\node[tn] (t67) at (781.7,901) {Q317};
\node[vn] (t68) at (740,921.7) {.op};
\node[vn] (t69) at (796.7,934) {-60V};
\node[tn] (t70) at (820.3,934) {Vee};
\node[tn] (t71) at (744,931) {.tran 4};
\node[vn] (t72) at (695,894) {-55V};
% notes
\node[bign] (n1) at (1010,660.2) {The output voltage follows};
\node[bign] (n2) at (1010,676.2) {voltage on the link. If there is +10 volts};
\node[bign] (n3) at (1010,692.2) {on the link then there is +10 volts on the output.};
\node[bign] (n4) at (1010,708.2) {-23 volt on the link and -23 volt on the output};
\node[bign] (n5) at (1010,724.2) {No current flows in the 0.22 ohm at any time under};
\node[bign] (n6) at (1010,741.5) {these conditions..};
\node[bign] (n7) at (565,800) {These are linked};
\node[bign] (n8) at (1020,885.8) {There is no bias current};
\node[bign] (n9) at (1020,901.8) {and no voltage across any 0.22 ohm};
\node[bign] (n10) at (1020,930.2) {The link prevents cross conduction};
\node[bign] (n11) at (1020,946.2) {This means only the upper or lower part};
\node[bign] (n12) at (1020,962.2) {can be on at any given time.};
% status bar
\draw[black!80,line width=1.4pt] (0,1020.3) -- (1919,1020.3);
\node[statn] (sx) at (2,1012) {x = 0.050s};
\node[statn] (sy) at (142,1012) {y = 60.38V};
\end{tikzpicture}
\end{document}
